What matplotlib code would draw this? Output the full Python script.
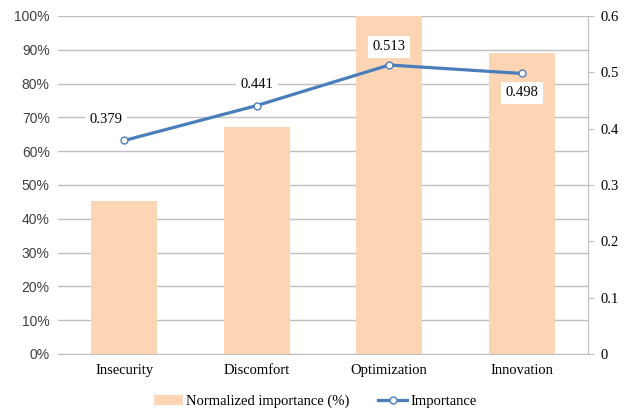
import matplotlib.pyplot as plt
from matplotlib.ticker import PercentFormatter

# dados do gráfico
categorias = ['Insecurity', 'Discomfort', 'Optimization', 'Innovation']
importancia_normalizada = [45.3, 67.2, 100.0, 89.1]  # em %
importancia = [0.379, 0.441, 0.513, 0.498]
# deslocamento dos rótulos (pontos) em relação ao marcador
desloc_rotulos = [(-13, 15), (0, 15), (0, 13), (0, -14)]

cor_barra = '#FCD5B5'
cor_linha = '#4A7EBB'
cor_grade = '#BFBFBF'

plt.rcParams['font.family'] = ['Liberation Serif', 'DejaVu Serif']

fig = plt.figure(figsize=(6.3, 4.09), dpi=100)
ax = fig.add_axes([0.0921, 0.1345, 0.8412, 0.8264])
ax2 = ax.twinx()

x = range(len(categorias))
barras = ax.bar(x, importancia_normalizada, width=0.5, color=cor_barra,
                label='Normalized importance (%)', zorder=2)
ax.set_ylim(0, 100)
ax.set_xlim(-0.5, len(categorias) - 0.5)
ax.set_yticks(range(0, 101, 10))
ax.yaxis.set_major_formatter(PercentFormatter(decimals=0))
ax.grid(axis='y', color=cor_grade, linewidth=1, zorder=0)
ax.set_axisbelow(True)
ax.set_xticks(list(x))
ax.set_xticklabels(categorias, fontsize=10.5)
ax.tick_params(axis='x', length=0, pad=7)
ax.tick_params(axis='y', length=0, pad=6, labelsize=10)
for rotulo in ax.get_yticklabels():
    rotulo.set_family(['Liberation Sans', 'DejaVu Sans'])
    rotulo.set_color('#404040')
for lado in ['top', 'left', 'right']:
    ax.spines[lado].set_visible(False)
ax.spines['bottom'].set_color(cor_grade)

# linha de importância no eixo secundário
linha, = ax2.plot(x, importancia, color=cor_linha, linewidth=2.3, marker='o',
                  markersize=5, markerfacecolor='white', markeredgecolor=cor_linha,
                  markeredgewidth=1, label='Importance', zorder=3)
ax2.set_ylim(0, 0.6)
ax2.set_yticks([0, 0.1, 0.2, 0.3, 0.4, 0.5, 0.6])
ax2.set_yticklabels(['0', '0.1', '0.2', '0.3', '0.4', '0.5', '0.6'])
ax2.tick_params(axis='y', length=4, color=cor_grade, labelsize=10.5, pad=5)
for lado in ['top', 'left', 'bottom']:
    ax2.spines[lado].set_visible(False)
ax2.spines['right'].set_color(cor_grade)

for xi, v, d in zip(x, importancia, desloc_rotulos):
    ax2.annotate(f'{v:.3f}', (xi, v), xytext=d, textcoords='offset points',
                 ha='center', va='center', fontsize=10.5,
                 bbox=dict(boxstyle='square,pad=0.3', facecolor='white', edgecolor='none'))

fig.legend([barras, linha], ['Normalized importance (%)', 'Importance'],
           loc='lower center', bbox_to_anchor=(0.5, -0.03), ncol=2, frameon=False,
           fontsize=10.5, handlelength=2.0, columnspacing=2.0, handletextpad=0.2)

fig.savefig('out.png', dpi=100)
